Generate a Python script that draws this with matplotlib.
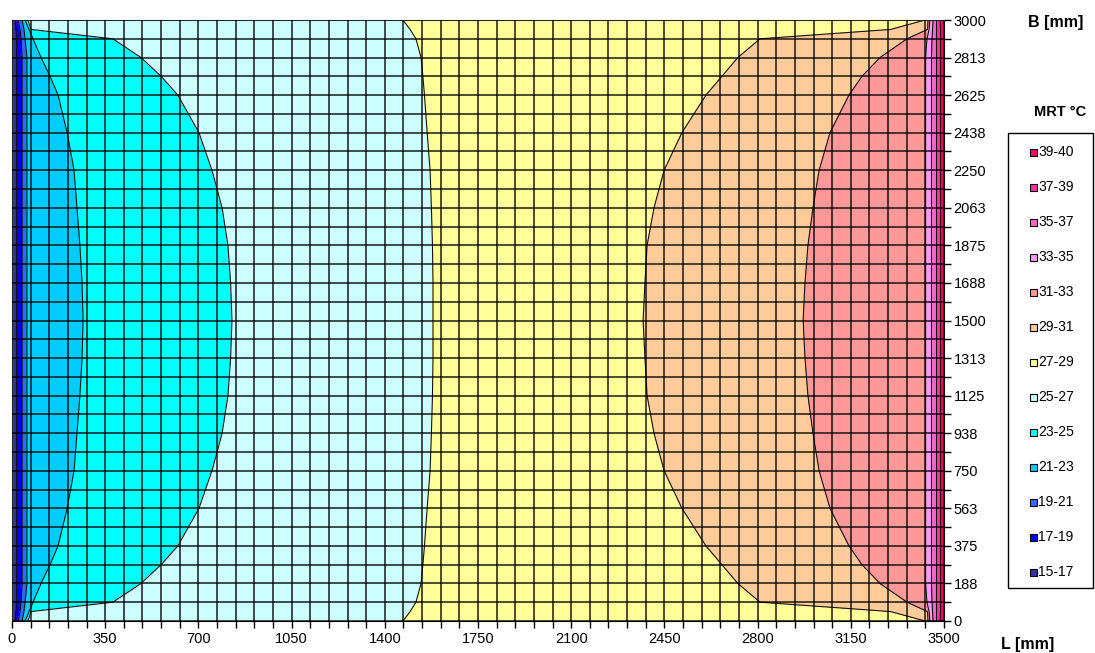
import numpy as np
import matplotlib.pyplot as plt
from matplotlib.patches import Rectangle

plt.rcParams['font.family'] = ['Liberation Sans', 'DejaVu Sans']

# rows of the upper half of the room (mm); lower half is the mirror image
y_rows = [3000, 2953, 2906, 2813, 2719, 2625, 2438, 2250, 2063, 1875, 1688, 1500]

# x (mm) where each isotherm crosses those rows
iso_17 = [11, 15, 17, 17, 17, 17, 17, 17, 17, 17, 17, 17]
iso_19 = [23, 30, 34, 38, 38, 38, 38, 38, 38, 38, 38, 38]
iso_21 = [38, 45, 49, 56, 56, 56, 56, 56, 56, 56, 56, 56]
iso_23 = [49, 64, 79, 109, 143, 173, 207, 233, 244, 255, 263, 267]
iso_25 = [60, 71, 379, 484, 560, 623, 702, 751, 789, 811, 821, 826]
iso_27 = [1468, 1495, 1517, 1536, 1543, 1549, 1559, 1570, 1575, 1579, 1581, 1581]
iso_29 = [3429, 3300, 2809, 2726, 2666, 2606, 2516, 2449, 2411, 2385, 2377, 2370]
iso_31 = [3440, 3438, 3361, 3260, 3192, 3143, 3072, 3031, 3008, 2989, 2978, 2971]
iso_33 = [3447, 3444, 3436, 3431, 3431, 3431, 3431, 3431, 3431, 3431, 3431, 3431]
iso_35 = [3459, 3457, 3455, 3453, 3453, 3453, 3453, 3453, 3453, 3453, 3453, 3453]
iso_37 = [3470, 3470, 3470, 3470, 3470, 3470, 3470, 3470, 3470, 3470, 3470, 3470]
iso_39 = [3485, 3487, 3487, 3487, 3487, 3487, 3487, 3487, 3487, 3487, 3487, 3487]

t_cold_wall = 15   # x = 0
t_hot_wall = 40    # x = 3500
room_L = 3500
room_B = 3000

levels = [15, 17, 19, 21, 23, 25, 27, 29, 31, 33, 35, 37, 39, 40]
band_labels = ['15-17', '17-19', '19-21', '21-23', '23-25', '25-27', '27-29',
               '29-31', '31-33', '33-35', '35-37', '37-39', '39-40']
band_colors = ['#333399', '#0000FF', '#3366FF', '#00CCFF', '#00FFFF', '#CCFFFF',
               '#FFFF99', '#FFCC99', '#FF9999', '#FF99FF', '#FF66CC', '#FF3399',
               '#FF0066']

x_ticks = np.arange(0, 3501, 350)
y_ticks = np.arange(0, 3001, 187.5)
y_tick_labels = ['0', '188', '375', '563', '750', '938', '1125', '1313', '1500',
                 '1688', '1875', '2063', '2250', '2438', '2625', '2813', '3000']

# build the curvilinear grid: columns = walls + isotherms
iso = np.array([iso_17, iso_19, iso_21, iso_23, iso_25, iso_27,
                iso_29, iso_31, iso_33, iso_35, iso_37, iso_39]).T
n = len(y_rows)
X_half = np.column_stack([np.zeros(n), iso, np.full(n, room_L)])
X = np.vstack([X_half, X_half[-2::-1]])
y_half = np.array(y_rows, dtype=float)
y_full = np.concatenate([y_half, room_B - y_half[-2::-1]])
Y = np.repeat(y_full[:, None], X.shape[1], axis=1)
node_t = [t_cold_wall] + levels[1:-1] + [t_hot_wall]
Z = np.tile(np.array(node_t, dtype=float), (len(y_full), 1))

fig = plt.figure(figsize=(10.95, 6.53), dpi=100)
W, H = 1095, 653
ax = fig.add_axes([12 / W, 32 / H, 932 / W, 601 / H])

ax.contourf(X, Y, Z, levels=levels, colors=band_colors, zorder=1)
for j in range(1, X.shape[1] - 1):
    ax.plot(X[:, j], y_full, color='#111111', lw=0.8, zorder=2)

ax.set_xlim(0, room_L)
ax.set_ylim(0, room_B)
ax.set_xticks(x_ticks)
ax.set_xticks(np.arange(0, 3501, 70), minor=True)
ax.set_yticks(y_ticks)
ax.set_yticklabels(y_tick_labels)
ax.set_yticks(np.arange(0, 3001, 93.75), minor=True)
ax.yaxis.tick_right()
ax.set_axisbelow(False)
ax.grid(which='both', color='black', lw=1.4, alpha=0.7)
ax.tick_params(axis='both', which='both', direction='out', length=5, width=1,
               labelsize=10.5, colors='black')
ax.tick_params(axis='x', pad=3)
ax.tick_params(axis='y', pad=2)
for s in ['left', 'top']:
    ax.spines[s].set_color('#777777')
for s in ['right', 'bottom']:
    ax.spines[s].set_color('black')

fig.text(1056 / W, 1 - 22 / H, 'B [mm]', fontsize=11.5, fontweight='bold',
         ha='center', va='center')
fig.text(1028 / W, 1 - 645 / H, 'L [mm]', fontsize=11.5, fontweight='bold',
         ha='center', va='center')
fig.text(1060 / W, 1 - 112 / H, 'MRT °C', fontsize=10.5, fontweight='bold',
         ha='center', va='center')

# legend box
fig.patches.append(Rectangle((1008 / W, 1 - 588 / H), 85 / W, 455 / H,
                             transform=fig.transFigure, fill=False,
                             edgecolor='black', lw=1))
for i, (lab, col) in enumerate(zip(band_labels[::-1], band_colors[::-1])):
    yc = 152 + 35 * i
    fig.patches.append(Rectangle((1030 / W, 1 - (yc + 4) / H), 7 / W, 7 / H,
                                 transform=fig.transFigure, facecolor=col,
                                 edgecolor='black', lw=0.8))
    fig.text(1038 / W, 1 - yc / H, lab, fontsize=10, ha='left', va='center')

fig.savefig('out.png', dpi=100)
